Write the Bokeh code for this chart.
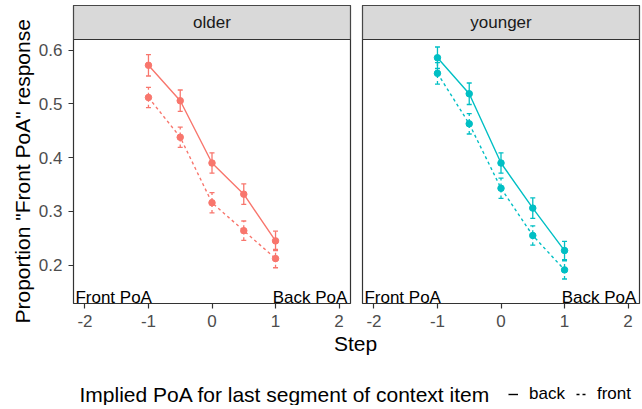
from bokeh.plotting import figure
from bokeh.models import (Range1d, FixedTicker, Whisker, TeeHead, ColumnDataSource,
                          Label, Legend, LegendItem, Title)
from bokeh.layouts import row, column
from bokeh.embed import file_html
from bokeh.resources import INLINE
from bokeh.core.properties import value

# ---------------- data ----------------
steps = [-1.0, -0.5, 0.0, 0.5, 1.0]
groups = ["older", "younger"]
group_colors = ["#F8766D", "#00BFC4"]
contexts = ["back", "front"]

older_back = [0.572, 0.506, 0.390, 0.332, 0.245]
older_back_se = [0.020, 0.020, 0.019, 0.019, 0.018]
older_front = [0.512, 0.438, 0.316, 0.264, 0.212]
older_front_se = [0.019, 0.019, 0.019, 0.018, 0.017]

younger_back = [0.586, 0.519, 0.390, 0.306, 0.227]
younger_back_se = [0.020, 0.020, 0.019, 0.019, 0.017]
younger_front = [0.557, 0.463, 0.343, 0.255, 0.191]
younger_front_se = [0.020, 0.019, 0.019, 0.018, 0.017]

x_ticks = [-2, -1, 0, 1, 2]
x_tick_labels = ["-2", "-1", "0", "1", "2"]
y_ticks = [0.2, 0.3, 0.4, 0.5, 0.6]
y_tick_labels = ["0.2", "0.3", "0.4", "0.5", "0.6"]
end_labels = ["Front PoA", "Back PoA"]

x_title = "Step"
y_title = 'Proportion "Front PoA" response'
legend_title = "Implied PoA for last segment of context item"

series = {
    "older": {"back": (older_back, older_back_se), "front": (older_front, older_front_se)},
    "younger": {"back": (younger_back, younger_back_se), "front": (younger_front, younger_front_se)},
}

# ---------------- layout / style ----------------
FONT = "Liberation Sans"
X_LO, X_HI = -2.18, 2.18
Y_LO, Y_HI = 0.1284, 0.62
FRAME_W, PANEL_H, STRIP_H = 277, 264, 34
TOP_B, BOT_B = 5, 30
Y_TOP = Y_HI + STRIP_H * (Y_HI - Y_LO) / PANEL_H
DASHES = {"back": "solid", "front": "3 3"}
BORDER = "#333333"
END_X = [-2.15, 2.13]
END_Y = 0.14


def style_axis(ax):
    ax.axis_line_color = None
    ax.major_tick_line_color = BORDER
    ax.major_tick_line_width = 1.2
    ax.major_tick_out = 5
    ax.major_tick_in = 0
    ax.minor_tick_line_color = None
    ax.major_label_text_font = FONT
    ax.major_label_text_font_size = "17px"
    ax.major_label_text_color = "#4D4D4D"
    ax.major_label_standoff = 6


def make_panel(idx):
    first = idx == 0
    g = groups[idx]
    c = group_colors[idx]
    p = figure(frame_width=FRAME_W, frame_height=PANEL_H + STRIP_H,
               min_border_left=73 if first else 6, min_border_right=6 if first else 2,
               min_border_top=TOP_B, min_border_bottom=BOT_B,
               x_range=Range1d(X_LO, X_HI), y_range=Range1d(Y_LO, Y_TOP),
               y_axis_location="left" if first else None,
               output_backend="svg", toolbar_location=None, tools="")
    p.xgrid.visible = False
    p.ygrid.visible = False
    p.outline_line_color = BORDER
    p.outline_line_width = 1.2
    p.background_fill_color = "white"
    p.border_fill_color = "white"

    # facet strip
    p.quad(left=[X_LO], right=[X_HI], bottom=[Y_HI], top=[Y_TOP],
           fill_color="#D9D9D9", line_color=BORDER, line_width=1.2)
    p.text(x=[(X_LO + X_HI) / 2], y=[(Y_HI + Y_TOP) / 2], text=[g],
           text_align="center", text_baseline="middle",
           text_font=value(FONT), text_font_size="17px", text_color="#1A1A1A")

    for ctx in contexts:
        vals, se = series[g][ctx]
        src = ColumnDataSource(dict(
            x=steps, y=vals,
            lower=[v - s for v, s in zip(vals, se)],
            upper=[v + s for v, s in zip(vals, se)]))
        dash = DASHES[ctx]
        p.line("x", "y", source=src, line_color=c, line_width=1.4, line_dash=dash)
        w = Whisker(source=src, base="x", upper="upper", lower="lower",
                    line_color=c, line_width=1.3, line_dash=dash,
                    upper_head=TeeHead(size=5, line_color=c, line_width=1.3),
                    lower_head=TeeHead(size=5, line_color=c, line_width=1.3))
        p.add_layout(w)
        p.scatter("x", "y", source=src, size=6.5, fill_color=c, line_color=c)

    p.text(x=[END_X[0]], y=[END_Y], text=[end_labels[0]], text_align="left",
           text_baseline="alphabetic", text_font=value(FONT), text_font_size="17px",
           text_color="black")
    p.text(x=[END_X[1]], y=[END_Y], text=[end_labels[1]], text_align="right",
           text_baseline="alphabetic", text_font=value(FONT), text_font_size="17px",
           text_color="black")

    p.xaxis.ticker = FixedTicker(ticks=x_ticks)
    p.xaxis.major_label_overrides = {t: l for t, l in zip(x_ticks, x_tick_labels)}
    style_axis(p.xaxis[0])
    if first:
        p.yaxis.ticker = FixedTicker(ticks=y_ticks)
        p.yaxis.major_label_overrides = {t: l for t, l in zip(y_ticks, y_tick_labels)}
        style_axis(p.yaxis[0])
        # y title: starts 20px below the panel bottom and reads upward
        p.add_layout(Title(text=y_title, align="left", offset=-20, standoff=4,
                           text_font=FONT, text_font_size="21px",
                           text_font_style="normal", text_color="black"), "left")
    return p


p1 = make_panel(0)
p2 = make_panel(1)

# ---------------- bottom: x title + legend ----------------
BOT_H = 72
p3 = figure(width=641, height=BOT_H, min_border=0,
            x_axis_location=None, y_axis_location=None,
            output_backend="svg", toolbar_location=None, tools="")
p3.outline_line_color = None
p3.grid.visible = False
p3.border_fill_color = "white"

r_back = p3.line(x=steps, y=older_back, line_color="black", line_width=1.4,
                 line_dash=DASHES["back"], visible=False)
r_front = p3.line(x=steps, y=older_front, line_color="black", line_width=1.4,
                  line_dash=DASHES["front"], visible=False)

p3.add_layout(Label(x=355, y=BOT_H - 10, x_units="screen", y_units="screen", text=x_title,
                    text_align="center", text_baseline="middle",
                    text_font=FONT, text_font_size="21px", text_color="black"))
p3.add_layout(Label(x=79, y=11, x_units="screen", y_units="screen", text=legend_title,
                    text_align="left", text_baseline="middle",
                    text_font=FONT, text_font_size="21px", text_color="black"))

legend = Legend(items=[LegendItem(label=contexts[0], renderers=[r_back]),
                       LegendItem(label=contexts[1], renderers=[r_front])],
                orientation="horizontal", location=(508, 1),
                glyph_width=10, glyph_height=16, label_standoff=11, spacing=11,
                padding=0, margin=0, border_line_color=None, background_fill_alpha=0,
                inactive_fill_alpha=0,
                label_text_font=FONT, label_text_font_size="17px", label_text_color="black")
p3.add_layout(legend)

layout = column(row(p1, p2), p3)
open("out.html", "w").write(file_html(layout, INLINE))
